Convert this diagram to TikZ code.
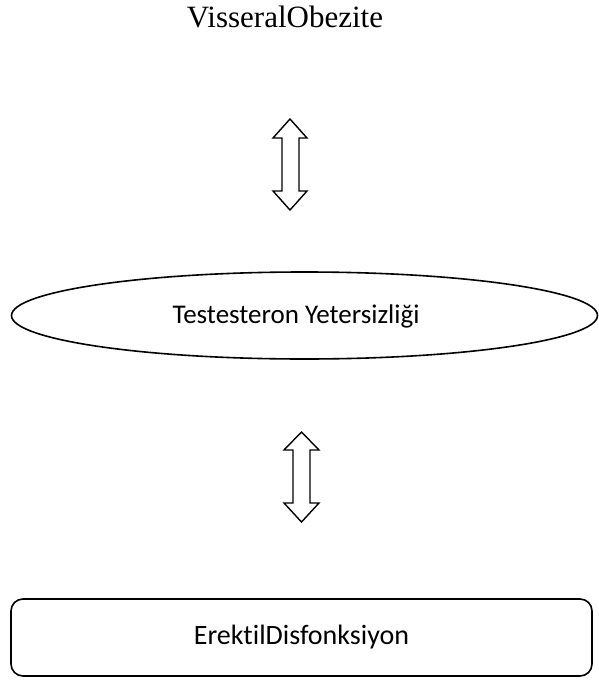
\documentclass[tikz,border=0pt]{standalone}
\usepackage{fontspec}
\setmainfont{Liberation Serif}
\newfontfamily\bodyfont[Ligatures={NoCommon}]{Carlito}
\usetikzlibrary{shapes.geometric}
\begin{document}
\begin{tikzpicture}[x=1pt,y=-1pt,
  outline/.style={draw=black,line width=1.6pt},
  blockarrow/.style={draw=black,line width=1.4pt,fill=white,line join=miter},
  label/.style={inner sep=0pt,anchor=base}]
\useasboundingbox (0,0) rectangle (598,682);

% title
\node[label,font=\fontsize{31}{35}\selectfont] (obez) at (285,28) {VisseralObezite};

% upper double block arrow
\draw[blockarrow] (290,119) -- (307,138) -- (299,138) -- (299,191) -- (307,191)
  -- (290,210) -- (273,191) -- (282,191) -- (282,138) -- (273,138) -- cycle;

% ellipse
\node[outline,ellipse,minimum width=586pt,minimum height=87pt,inner sep=0pt] (test) at (304.5,315.5) {};
\node[label,font=\bodyfont\fontsize{27}{31}\selectfont] (testtxt) at (296,323) {Testesteron Yetersizliği};

% lower double block arrow
\draw[blockarrow] (301.5,432) -- (319,450) -- (310,450) -- (310,503) -- (319,503)
  -- (301.5,522) -- (284,503) -- (293,503) -- (293,450) -- (284,450) -- cycle;

% rounded box
\node[outline,rectangle,rounded corners=12pt,minimum width=581pt,minimum height=77pt,inner sep=0pt] (ed) at (301.5,637.5) {};
\node[label,font=\bodyfont\fontsize{28}{32}\selectfont] (edtxt) at (301.5,644) {ErektilDisfonksiyon};
\end{tikzpicture}
\end{document}
